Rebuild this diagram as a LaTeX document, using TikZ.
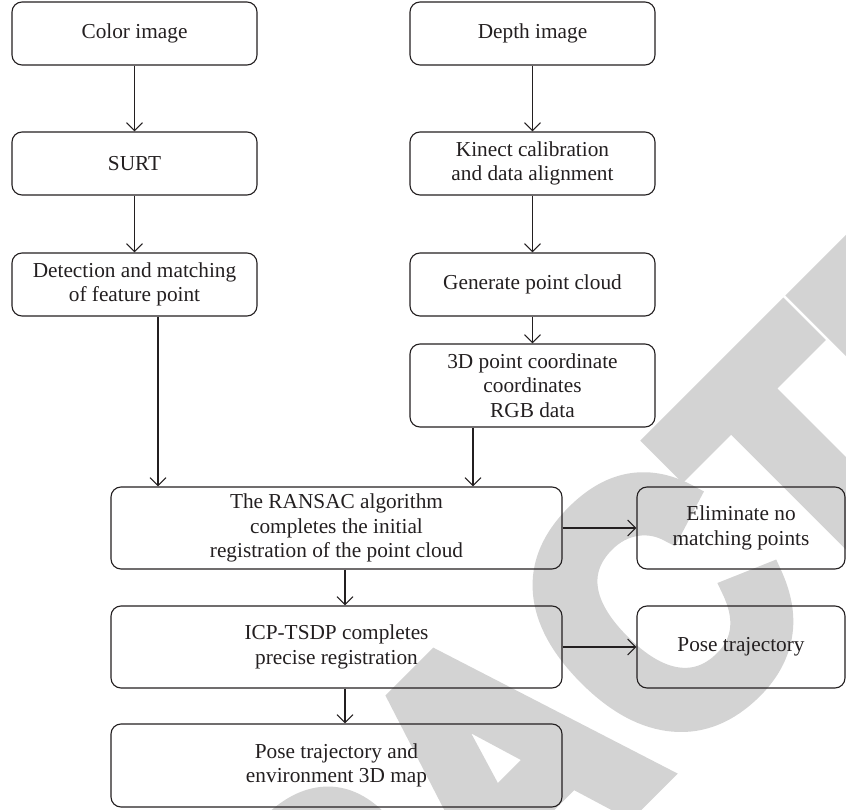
\documentclass[tikz,border=0pt]{standalone}
\usepackage{fontspec}
\setmainfont{Liberation Serif}
\newfontfamily\wmfont{Liberation Sans Bold}[FakeBold=6,FakeStretch=0.88]
\usetikzlibrary{arrows.meta}
\definecolor{ink}{HTML}{231F20}
\definecolor{wm}{HTML}{D3D3D3}
\begin{document}
\begin{tikzpicture}[x=1pt,y=-1pt,
  box/.style={draw=ink, text=ink, line width=1.1pt, rounded corners=10pt, align=center, inner sep=0pt,
    font=\fontsize{21.3}{24.5}\selectfont},
  arr/.style={draw=ink, line width=1.1pt, -{Straight Barb[length=8pt,width=16pt]}}]
\useasboundingbox (0,0) rectangle (846,810);
\begin{scope}
  \clip (0,0) rectangle (846,810);
  \node[rotate=45, text=wm, inner sep=0pt, font=\wmfont\fontsize{350}{350}\selectfont] (wmark) at (502,764) {RETRACTED};
\end{scope}
\node[box, minimum width=245pt, minimum height=63pt] (color) at (134.5,33.5) {Color image};
\node[box, minimum width=245pt, minimum height=63pt] (surt) at (134.5,163.5) {SURT};
\node[box, minimum width=245pt, minimum height=63pt] (det) at (134.5,284.5) {Detection and matching\\of feature point};
\node[box, minimum width=245pt, minimum height=63pt] (depth) at (532.5,33.5) {Depth image};
\node[box, minimum width=245pt, minimum height=63pt] (kin) at (532.5,163.5) {Kinect calibration\\and data alignment};
\node[box, minimum width=245pt, minimum height=63pt] (gen) at (532.5,284.5) {Generate point cloud};
\node[box, minimum width=245pt, minimum height=83pt] (pt3d) at (532.5,385.5) {3D point coordinate\\coordinates\\RGB data};
\node[box, minimum width=451pt, minimum height=82pt] (ransac) at (336.5,528) {The RANSAC algorithm\\completes the initial\\registration of the point cloud};
\node[box, minimum width=208pt, minimum height=82pt] (elim) at (741,528) {Eliminate no\\matching points};
\node[box, minimum width=451pt, minimum height=82pt] (icp) at (336.5,647) {ICP-TSDP completes\\precise registration};
\node[box, minimum width=208pt, minimum height=82pt] (pose) at (741,647) {Pose trajectory};
\node[box, minimum width=451pt, minimum height=83pt] (final) at (336.5,765.5) {Pose trajectory and\\environment 3D map};
\coordinate (cL) at (158,0);
\coordinate (cR) at (473,0);
\coordinate (cM) at (345,0);
\draw[arr] (color) -- (surt);
\draw[arr] (surt) -- (det);
\draw[arr] (depth) -- (kin);
\draw[arr] (kin) -- (gen);
\draw[arr] (gen) -- (pt3d);
\draw[arr] (det.south -| cL) -- (ransac.north -| cL);
\draw[arr] (pt3d.south -| cR) -- (ransac.north -| cR);
\draw[arr] (ransac.south -| cM) -- (icp.north -| cM);
\draw[arr] (icp.south -| cM) -- (final.north -| cM);
\draw[arr] (ransac) -- (elim);
\draw[arr] (icp) -- (pose);
\end{tikzpicture}
\end{document}
